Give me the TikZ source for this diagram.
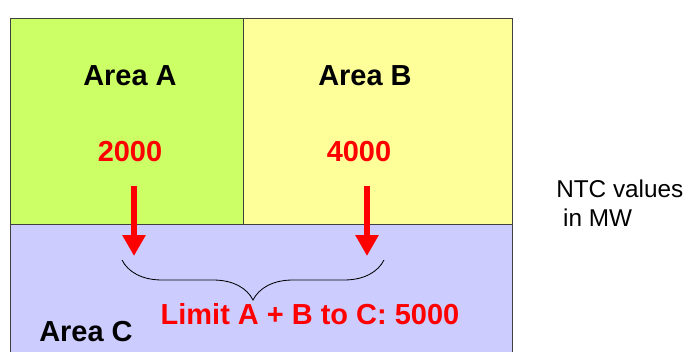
\documentclass[tikz,border=0pt]{standalone}
\usepackage{fontspec}
\setmainfont{Liberation Sans}
\usetikzlibrary{arrows.meta, decorations.pathreplacing}
\definecolor{areaAfill}{HTML}{CCFF66}
\definecolor{areaBfill}{HTML}{FFFF99}
\definecolor{areaCfill}{HTML}{CCCCFF}
\definecolor{ntcred}{HTML}{FF0000}

\begin{document}
\begin{tikzpicture}[x=0.025cm, y=-0.025cm,
  area/.style={draw=black!75, line width=0.7pt},
  arealabel/.style={inner sep=0pt, font=\bfseries\fontsize{20.6}{24}\selectfont},
  value/.style={arealabel, text=ntcred},
  flow/.style={-{Triangle[width=0.55cm, length=0.52cm]}, line width=4.3pt, draw=ntcred},
  brc/.style={decorate, decoration={brace, mirror, amplitude=1cm}, line width=0.6pt},
  note/.style={inner sep=0pt, align=left, font=\fontsize{17.3}{20.6}\selectfont}
]
\clip (0,0) rectangle (690,352);
% Areas
\draw[area, fill=areaCfill] (10,224) rectangle (512,370);
\draw[area, fill=areaAfill] (10,18) rectangle (243,224);
\draw[area, fill=areaBfill] (243,18) rectangle (512,224);

% Area names
\node[arealabel] (areaA) at (130,76) {Area A};
\node[arealabel] (areaB) at (365,76) {Area B};
\node[arealabel] (areaC) at (86,332) {Area C};

% NTC per area
\node[value] (numA) at (130,152) {2000};
\node[value] (numB) at (359,152) {4000};
\coordinate (tipA) at (134,256);
\coordinate (tipB) at (367,256);
\draw[flow, shorten <=0.575cm] (numA.south -| tipA) -- (tipA);
\draw[flow, shorten <=0.575cm] (numB.south -| tipB) -- (tipB);

% Joint limit
\coordinate (braceL) at (122,260);
\coordinate (braceR) at (384,260);
\draw[brc] (braceL) -- (braceR);
\node[value] (limit) at (310,314) {Limit A + B to C: 5000};

% Side note
\node[note, anchor=west] (ntc) at (556,203) {NTC values\\\hspace*{0.28em}in MW};
\end{tikzpicture}
\end{document}
